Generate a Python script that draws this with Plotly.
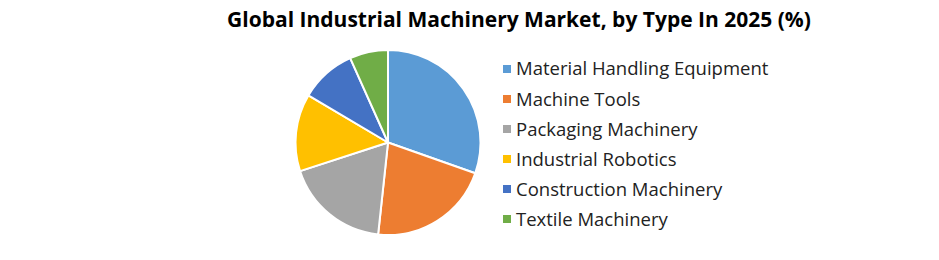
import plotly.graph_objects as go

categories = ["Material Handling Equipment", "Machine Tools", "Packaging Machinery",
              "Industrial Robotics", "Construction Machinery", "Textile Machinery"]
values = [30.4, 21.3, 18.3, 13.5, 9.8, 6.7]
colors = ["#5B9BD5", "#ED7D31", "#A5A5A5", "#FFC000", "#4472C4", "#70AD47"]

W, H = 939, 260
cx, cy, r = 388, 142.5, 92.5

fig = go.Figure(go.Pie(
    labels=categories, values=values, sort=False, direction="clockwise", rotation=0,
    marker=dict(colors=colors, line=dict(color="white", width=2)),
    textinfo="none", hoverinfo="label+value", showlegend=False,
    domain=dict(x=[(cx - r) / W, (cx + r) / W], y=[(H - cy - r) / H, (H - cy + r) / H]),
))

# legend drawn as text rows with coloured squares
leg_top, leg_gap, sq = 69, 30, 8
for i, (lab, col) in enumerate(zip(categories, colors)):
    yc = leg_top + i * leg_gap
    fig.add_shape(type="rect", xref="paper", yref="paper",
                  x0=503 / W, x1=(503 + sq) / W,
                  y0=1 - (yc + sq / 2) / H, y1=1 - (yc - sq / 2) / H,
                  fillcolor=col, line=dict(width=0))
    fig.add_annotation(text=lab, xref="paper", yref="paper", x=514 / W, y=1 - (yc - 1) / H,
                       xanchor="left", yanchor="middle", showarrow=False,
                       font=dict(family="Open Sans", size=18.5, color="#222"))

fig.update_layout(
    width=W, height=H, margin=dict(l=0, r=0, t=0, b=0),
    paper_bgcolor="white", plot_bgcolor="white",
    title=dict(text="<b>Global Industrial Machinery Market, by Type In 2025 (%)</b>",
               x=519 / W, xanchor="center", y=1 - 20 / H, yanchor="middle",
               font=dict(family="Open Sans", size=21, color="black")),
)
fig.write_html("out.html")
